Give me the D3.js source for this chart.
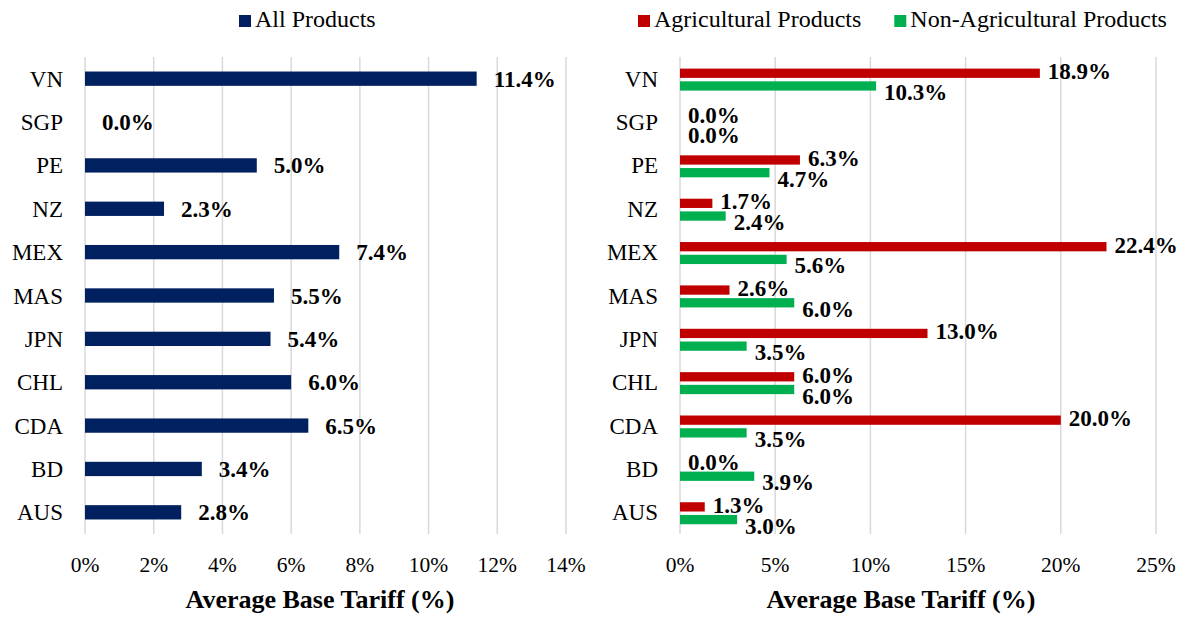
<!DOCTYPE html>
<html>
<head>
<meta charset="utf-8">
<script src="https://cdn.jsdelivr.net/npm/d3@7"></script>
<style>
  body { margin: 0; background: #fff; }
  svg text { font-family: 'Liberation Serif', 'Times New Roman', 'DejaVu Serif', serif; }
</style>
</head>
<body>
<svg id="chart" width="1187" height="617"></svg>
<script>
// data
const countries = ['VN', 'SGP', 'PE', 'NZ', 'MEX', 'MAS', 'JPN', 'CHL', 'CDA', 'BD', 'AUS']
const allProducts = [11.4, 0.0, 5.0, 2.3, 7.4, 5.5, 5.4, 6.0, 6.5, 3.4, 2.8]
const agricultural = [18.9, 0.0, 6.3, 1.7, 22.4, 2.6, 13.0, 6.0, 20.0, 0.0, 1.3]
const nonAgricultural = [10.3, 0.0, 4.7, 2.4, 5.6, 6.0, 3.5, 6.0, 3.5, 3.9, 3.0]
const leftTicks = [0, 2, 4, 6, 8, 10, 12, 14]
const rightTicks = [0, 5, 10, 15, 20, 25]

const navy = '#002060'
const red = '#c00000'
const green = '#00b050'
const gridColor = '#d9d9d9'

const svg = d3.select('#chart')

const y = d3.scaleBand()
  .domain(countries)
  .range([57, 534])

const fmt = (v) => v.toFixed(1) + '%'

function drawFrame (x, ticks, titleX) {
  const g = svg.append('g')

  g.selectAll('.grid')
    .data(ticks)
    .enter()
      .append('line')
      .attr('x1', (d) => x(d))
      .attr('x2', (d) => x(d))
      .attr('y1', y.range()[0])
      .attr('y2', y.range()[1])
      .attr('stroke', gridColor)
      .attr('stroke-width', 1.5)

  g.selectAll('.tick')
    .data(ticks)
    .enter()
      .append('text')
      .attr('x', (d) => x(d))
      .attr('y', 572)
      .attr('text-anchor', 'middle')
      .attr('font-size', 21.5)
      .text((d) => d + '%')

  g.selectAll('.cat')
    .data(countries)
    .enter()
      .append('text')
      .attr('x', x(0) - 22)
      .attr('y', (d) => y(d) + y.bandwidth() / 2)
      .attr('dy', '0.35em')
      .attr('text-anchor', 'end')
      .attr('font-size', 23)
      .text((d) => d)

  g.append('text')
    .attr('x', titleX)
    .attr('y', 608)
    .attr('text-anchor', 'middle')
    .attr('font-size', 26)
    .attr('font-weight', 'bold')
    .text('Average Base Tariff (%)')

  return g
}

function legend (items, startX) {
  let cx = startX
  items.forEach((item) => {
    svg.append('rect')
      .attr('x', cx)
      .attr('y', 15)
      .attr('width', 12)
      .attr('height', 12)
      .attr('fill', item.color)
    const t = svg.append('text')
      .attr('x', cx + 16)
      .attr('y', 27)
      .attr('font-size', 24)
      .text(item.label)
    cx += 16 + t.node().getComputedTextLength() + 33
  })
}

// left panel: all products
const xLeft = d3.scaleLinear().domain([0, 14]).range([85, 566])
const left = drawFrame(xLeft, leftTicks, 320)

const yLeft = d3.scaleBand().domain(countries).range(y.range()).paddingInner(0.67).paddingOuter(0.335)

left.selectAll('.bar')
  .data(countries)
  .enter()
    .append('rect')
    .attr('x', xLeft(0))
    .attr('y', (d) => yLeft(d))
    .attr('width', (d, i) => xLeft(allProducts[i]) - xLeft(0))
    .attr('height', yLeft.bandwidth())
    .attr('fill', navy)

left.selectAll('.val')
  .data(countries)
  .enter()
    .append('text')
    .attr('x', (d, i) => xLeft(allProducts[i]) + 17)
    .attr('y', (d) => y(d) + y.bandwidth() / 2)
    .attr('dy', '0.35em')
    .attr('font-size', 23)
    .attr('font-weight', 'bold')
    .text((d, i) => fmt(allProducts[i]))

legend([{ label: 'All Products', color: navy }], 239)

// right panel: agricultural vs non-agricultural
const xRight = d3.scaleLinear().domain([0, 25]).range([680, 1156])
const right = drawFrame(xRight, rightTicks, 901)

const series = [
  { key: 'agri', values: agricultural, color: red, labelShift: -2 },
  { key: 'nonagri', values: nonAgricultural, color: green, labelShift: 6 }
]
const ySub = d3.scaleBand()
  .domain(series.map((s) => s.key))
  .range([11.6, 33.6])
  .paddingInner(0.27)

series.forEach((s) => {
  right.selectAll('.bar-' + s.key)
    .data(countries)
    .enter()
      .append('rect')
      .attr('x', xRight(0))
      .attr('y', (d) => y(d) + ySub(s.key))
      .attr('width', (d, i) => xRight(s.values[i]) - xRight(0))
      .attr('height', ySub.bandwidth())
      .attr('fill', s.color)

  right.selectAll('.val-' + s.key)
    .data(countries)
    .enter()
      .append('text')
      .attr('x', (d, i) => xRight(s.values[i]) + 8)
      .attr('y', (d) => y(d) + ySub(s.key) + ySub.bandwidth() / 2 + s.labelShift)
      .attr('dy', '0.35em')
      .attr('font-size', 23)
      .attr('font-weight', 'bold')
      .text((d, i) => fmt(s.values[i]))
})

legend([
  { label: 'Agricultural Products', color: red },
  { label: 'Non-Agricultural Products', color: green }
], 638)
</script>
</body>
</html>
